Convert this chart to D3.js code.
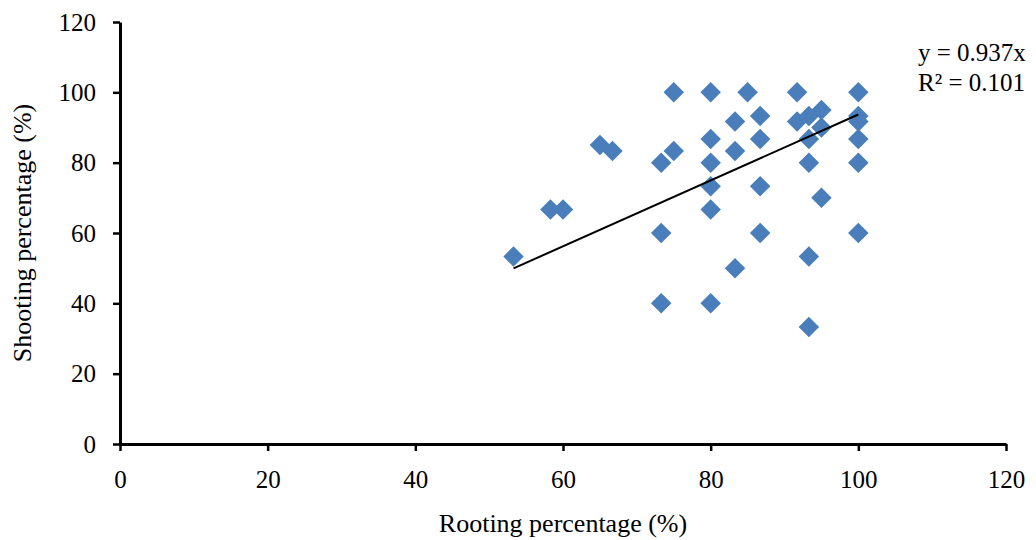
<!DOCTYPE html>
<html>
<head>
<meta charset="utf-8">
<script src="https://cdn.jsdelivr.net/npm/d3@7"></script>
<style>
  body { margin: 0; background: #fff; }
  text { font-family: "Liberation Serif", "Times New Roman", serif; fill: #000; }
</style>
</head>
<body>
<div class="container"></div>
<script>
// rooting % (x) vs shooting % (y)
const rooting  = [75, 65, 66.7, 75, 73.3, 58.3, 60, 73.3, 53.3, 73.3,
                  80, 85, 91.7, 100, 93.3, 95, 91.7, 86.7, 83.3, 100, 100, 95,
                  80, 86.7, 93.3, 100, 83.3, 80, 93.3, 100, 80, 86.7, 95, 80,
                  86.7, 100, 93.3, 83.3, 80, 93.3];
const shooting = [100, 85, 83.3, 83.3, 80, 66.7, 66.7, 60, 53.3, 40,
                  100, 100, 100, 100, 93.3, 95, 91.7, 93.3, 91.7, 93.3, 91.7, 90,
                  86.7, 86.7, 86.7, 86.7, 83.3, 80, 80, 80, 73.3, 73.3, 70, 66.7,
                  60, 60, 53.3, 50, 40, 33.3];
const xTicks = [0, 20, 40, 60, 80, 100, 120];
const yTicks = [0, 20, 40, 60, 80, 100, 120];
const slope = 0.937;
const eqLines = ["y = 0.937x", "R\u00b2 = 0.101"];

const width = 1036, height = 540;
const svg = d3.select(".container").append("svg")
    .attr("width", width)
    .attr("height", height);

const xScale = d3.scaleLinear().domain([0, 120]).range([120, 1006]);
const yScale = d3.scaleLinear().domain([0, 120]).range([444, 22]);

// axes
const xAxis = d3.axisBottom(xScale).tickValues(xTicks).tickSize(7).tickPadding(19).tickSizeOuter(0);
const yAxis = d3.axisLeft(yScale).tickValues(yTicks).tickSize(7).tickPadding(17).tickSizeOuter(0);

const gx = svg.append("g").attr("transform", `translate(0,${yScale(0)})`).call(xAxis);
const gy = svg.append("g").attr("transform", `translate(${xScale(0)},0)`).call(yAxis);

[gx, gy].forEach(g => {
    g.attr("font-family", null).attr("font-size", null);
    g.select(".domain").attr("stroke", "#000").attr("stroke-width", 3);
    g.selectAll(".tick line").attr("stroke", "#000").attr("stroke-width", 2.5);
    g.selectAll(".tick text")
        .style("font-size", "25px")
        .attr("fill", "#000");
});

// points
const pts = rooting.map((r, i) => ({ x: r, y: shooting[i] }));
svg.append("g").selectAll("path")
    .data(pts)
    .enter()
    .append("path")
    .attr("d", d3.symbol().type(d3.symbolSquare).size(210))
    .attr("transform", d => `translate(${xScale(d.x)},${yScale(d.y)}) rotate(45)`)
    .attr("fill", "#4A7EBB");

// trendline through origin
const x0 = d3.min(rooting), x1 = d3.max(rooting);
svg.append("line")
    .attr("x1", xScale(x0)).attr("y1", yScale(slope * x0))
    .attr("x2", xScale(x1)).attr("y2", yScale(slope * x1))
    .attr("stroke", "#000")
    .attr("stroke-width", 2);

// equation
svg.append("g").selectAll("text")
    .data(eqLines)
    .enter()
    .append("text")
    .attr("x", 918)
    .attr("y", (d, i) => 61 + i * 30)
    .style("font-size", "25px")
    .text(d => d);

// axis titles
svg.append("text")
    .attr("x", (xScale(0) + xScale(120)) / 2)
    .attr("y", 532)
    .attr("text-anchor", "middle")
    .style("font-size", "26px")
    .text("Rooting percentage (%)");

svg.append("text")
    .attr("transform", `translate(31,${(yScale(0) + yScale(120)) / 2}) rotate(-90)`)
    .attr("text-anchor", "middle")
    .style("font-size", "26px")
    .text("Shooting percentage (%)");
</script>
</body>
</html>
